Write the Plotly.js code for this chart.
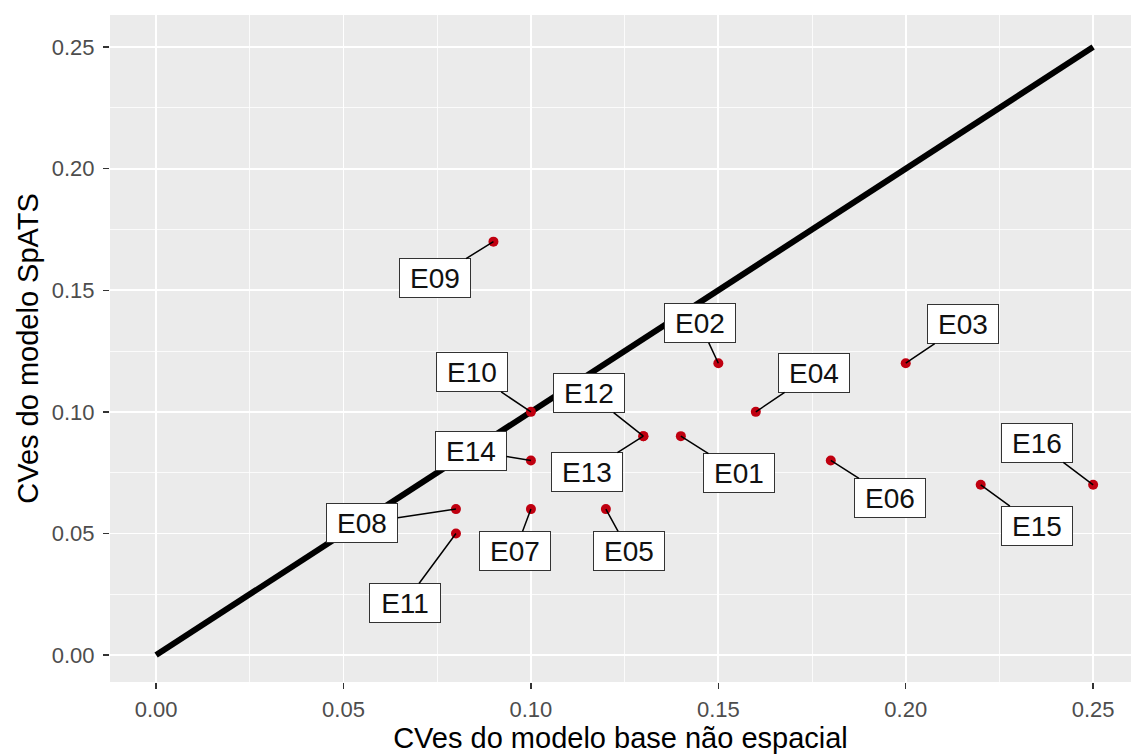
<!DOCTYPE html>
<html>
<head>
<meta charset="utf-8">
<script src="https://cdn.plot.ly/plotly-3.0.1.min.js"></script>
<style>html,body{margin:0;padding:0;background:#fff;}#chart{width:1131px;height:754px;}</style>
</head>
<body>
<div id="chart"></div>
<script>
// Data
const labels = ["E01","E02","E03","E04","E05","E06","E07","E08","E09","E10","E11","E12","E13","E14","E15","E16"];
const cvBase = [0.14,0.15,0.20,0.16,0.12,0.18,0.10,0.08,0.09,0.10,0.08,0.13,0.13,0.10,0.22,0.25];
const cvSpATS = [0.09,0.12,0.12,0.10,0.06,0.08,0.06,0.06,0.17,0.10,0.05,0.09,0.09,0.08,0.07,0.07];
// label box positions (data units, as placed by the repel layout)
const labelX = [0.1556,0.1450,0.2154,0.1754,0.1261,0.1957,0.0958,0.0550,0.0743,0.0843,0.0663,0.1155,0.1149,0.0840,0.2349,0.2351];
const labelY = [0.0748,0.1365,0.1361,0.1160,0.0428,0.0646,0.0428,0.0543,0.1550,0.1162,0.0214,0.1077,0.0752,0.0841,0.0532,0.0872];
const diagX = [0, 0.25];
const diagY = [0, 0.25];
const tickVals = [0, 0.05, 0.10, 0.15, 0.20, 0.25];

const FONT = 'Liberation Sans, Arial, sans-serif';

const traces = [
  {x: diagX, y: diagY, mode: 'lines', line: {color: '#000', width: 6}, hoverinfo: 'skip', showlegend: false},
  {x: cvBase, y: cvSpATS, mode: 'markers', marker: {color: '#C00010', size: 10}, text: labels, showlegend: false}
];

const annotations = labels.map((t, i) => ({
  x: cvBase[i], y: cvSpATS[i], xref: 'x', yref: 'y',
  ax: labelX[i], ay: labelY[i], axref: 'x', ayref: 'y',
  text: t, showarrow: true, arrowhead: 0, arrowwidth: 1.5, arrowcolor: '#000',
  standoff: 0, startstandoff: 0,
  font: {family: FONT, size: 28, color: '#111'},
  bgcolor: '#fff', bordercolor: '#333', borderwidth: 1, borderpad: 1,
  width: 68, height: 36
}));

const axisCommon = {
  tickvals: tickVals, tickformat: '.2f',
  showgrid: true, gridcolor: '#fff', gridwidth: 1.8,
  zeroline: false, showline: false,
  ticks: 'outside', ticklen: 6, tickwidth: 1.5, tickcolor: '#333',
  tickfont: {family: FONT, size: 22, color: '#4D4D4D'},
  minor: {dtick: 0.025, tick0: 0, showgrid: true, gridcolor: '#fff', gridwidth: 0.8, ticks: ''}
};

const layout = {
  width: 1131, height: 754,
  margin: {l: 110, r: 0, t: 15, b: 72},
  paper_bgcolor: '#fff', plot_bgcolor: '#EBEBEB',
  xaxis: Object.assign({}, axisCommon, {
    range: [-0.0123, 0.2601],
    ticklabelstandoff: 2,
    title: {text: 'CVes do modelo base não espacial', font: {family: FONT, size: 29, color: '#000'}, standoff: 2}
  }),
  yaxis: Object.assign({}, axisCommon, {
    range: [-0.0111, 0.2632],
    ticklabelstandoff: 4,
    title: {text: 'CVes do modelo SpATS', font: {family: FONT, size: 29, color: '#000'}, standoff: 4}
  }),
  annotations: annotations,
  showlegend: false
};

Plotly.newPlot('chart', traces, layout, {displayModeBar: false, staticPlot: true});
</script>
</body>
</html>
